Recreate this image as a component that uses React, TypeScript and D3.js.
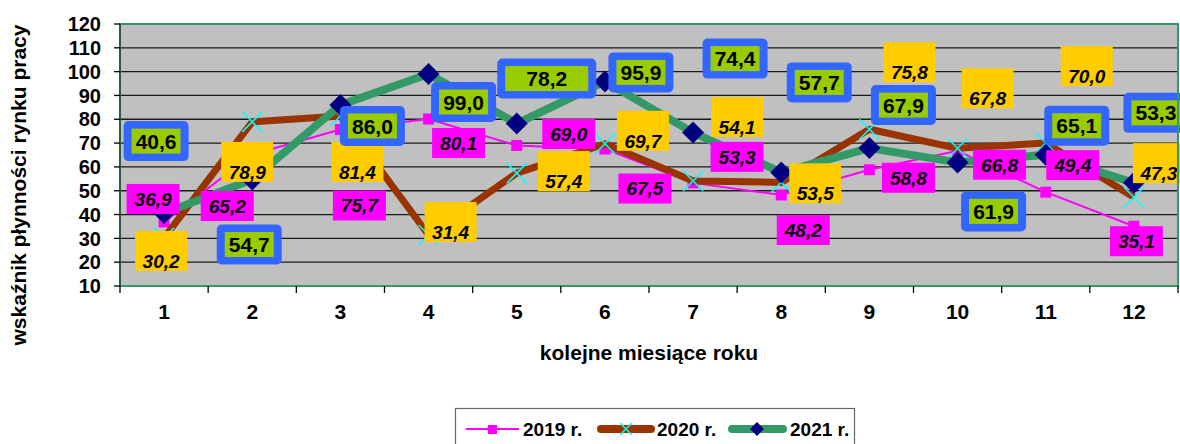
import React from "react";
import * as d3 from "d3";

const months = ["1", "2", "3", "4", "5", "6", "7", "8", "9", "10", "11", "12"];
const yTicks = [10, 20, 30, 40, 50, 60, 70, 80, 90, 100, 110, 120];
const seriesNames = ["2019 r.", "2020 r.", "2021 r."];
const values2019 = [36.9, 65.2, 75.7, 80.1, 69.0, 67.5, 53.3, 48.2, 58.8, 66.8, 49.4, 35.1];
const values2020 = [30.2, 78.9, 81.4, 31.4, 57.4, 69.7, 54.1, 53.5, 75.8, 67.8, 70.0, 47.3];
const values2021 = [40.6, 54.7, 86.0, 99.0, 78.2, 95.9, 74.4, 57.7, 67.9, 61.9, 65.1, 53.3];
const yTitle = "wskaźnik płynności rynku pracy";
const xTitle = "kolejne miesiące roku";

// label placement offsets (layout, px) relative to the data point
const off2019: [number, number][] = [[-11, -23], [-25, 51.5], [19, 76], [30, 24], [52, -11.5], [40, 39.5], [44, -26], [22, 35], [39, 8], [42, 14], [27, -27], [2.5, 15]];
const off2020: [number, number][] = [[-3, 13], [-5, 40], [17, 46], [22, -13], [47, -2], [38, -13], [44, -64], [34, 1], [40, -67], [30, -60], [41, -77], [25, -34]];
const off2021: [number, number][] = [[-8, -72], [-3, 65], [32, 21], [35, 28], [30, -45], [36, -9], [42, -74], [38, -90], [34, -43], [36, 49], [31, -29], [22, -70]];
const w2021 = [65, 65, 65, 65, 99, 65, 65, 65, 65, 65, 65, 65];

const FONT = "'Liberation Sans', Arial, sans-serif";
const W = 1180, H = 444;
const PL = 120, PR = 1178, PT = 24, PB = 286;

const fmt = (v: number) => v.toFixed(1).replace(".", ",");

export default function App() {
  const x = d3.scaleBand<string>().domain(months).range([PL, PR]);
  const y = d3.scaleLinear().domain([10, 120]).range([PB, PT]);
  const cx = (i: number) => (x(months[i]) as number) + x.bandwidth() / 2;
  const line = d3.line<number>().x((_, i) => cx(i)).y((d) => y(d));

  const xTickPos = months.map((m) => x(m) as number).concat([PR]);

  const diamond = (px: number, py: number, r: number) =>
    `M${px},${py - r}L${px + r},${py}L${px},${py + r}L${px - r},${py}Z`;
  const cross = (px: number, py: number, r: number) =>
    `M${px - r},${py - r}L${px + r},${py + r}M${px - r},${py + r}L${px + r},${py - r}`;

  return (
    <svg width={W} height={H} style={{ position: "absolute", left: 0, top: 0, display: "block", background: "#fff" }} fontFamily={FONT}>
      <rect x={PL} y={PT} width={PR - PL} height={PB - PT} fill="#C0C0C0" />
      {yTicks.map((t) => (
        <line key={t} x1={PL} x2={PR} y1={y(t)} y2={y(t)} stroke="#1a1a1a" strokeWidth={1.3} />
      ))}

      {/* 2019 */}
      <path d={line(values2019) || ""} fill="none" stroke="#FF00FF" strokeWidth={2} />
      {values2019.map((v, i) => (
        <rect key={i} x={cx(i) - 5.5} y={y(v) - 5.5} width={11} height={11} fill="#FF00FF" />
      ))}
      {/* 2020 */}
      <path d={line(values2020) || ""} fill="none" stroke="#993300" strokeWidth={7} strokeLinejoin="round" />
      {values2020.map((v, i) => (
        <path key={i} d={cross(cx(i), y(v), 10)} stroke="#00FFFF" strokeWidth={1.5} fill="none" />
      ))}
      {/* 2021 */}
      <path d={line(values2021) || ""} fill="none" stroke="#339966" strokeWidth={8} strokeLinejoin="round" />
      {values2021.map((v, i) => (
        <path key={i} d={diamond(cx(i), y(v), 11)} fill="#000080" />
      ))}

      {/* labels 2019 */}
      {values2019.map((v, i) => {
        const lx = cx(i) + off2019[i][0], ly = y(v) + off2019[i][1];
        return (
          <g key={i}>
            <rect x={lx - 26.5} y={ly - 15} width={53} height={30} fill="#FF00FF" />
            <text x={lx} y={ly} dy="0.36em" textAnchor="middle" fontSize={19} fontWeight="bold" fontStyle="italic" fill="#000">{fmt(v)}</text>
          </g>
        );
      })}
      {/* labels 2020 */}
      {values2020.map((v, i) => {
        const lx = cx(i) + off2020[i][0], ly = y(v) + off2020[i][1];
        return (
          <g key={i}>
            <rect x={lx - 26} y={ly - 20} width={52} height={40} fill="#FFCC00" />
            <text x={lx} y={ly + 10} dy="0.36em" textAnchor="middle" fontSize={19} fontWeight="bold" fontStyle="italic" fill="#000">{fmt(v)}</text>
          </g>
        );
      })}
      {/* labels 2021 */}
      {values2021.map((v, i) => {
        const lx = cx(i) + off2021[i][0], ly = y(v) + off2021[i][1];
        const bw = w2021[i];
        return (
          <g key={i}>
            <rect x={lx - bw / 2} y={ly - 20} width={bw} height={40} rx={5} fill="#3366FF" />
            <rect x={lx - bw / 2 + 8} y={ly - 12.5} width={bw - 16} height={25} fill="#99CC00" />
            <text x={lx} y={ly} dy="0.36em" textAnchor="middle" fontSize={21} fontWeight="bold" fill="#000">{fmt(v)}</text>
          </g>
        );
      })}

      {/* plot border */}
      <rect x={PL} y={PT} width={PR - PL} height={PB - PT} fill="none" stroke="#339966" strokeWidth={2} />
      <line x1={PL} x2={PL} y1={PT} y2={PB} stroke="#2a5a44" strokeWidth={2} />

      {/* y axis */}
      {yTicks.map((t) => (
        <g key={t}>
          <line x1={PL - 6} x2={PL} y1={y(t)} y2={y(t)} stroke="#000" strokeWidth={1.3} />
          <text x={101} y={y(t)} dy="0.36em" textAnchor="end" fontSize={20} fontWeight="bold">{t}</text>
        </g>
      ))}
      {/* x axis */}
      {xTickPos.map((p, i) => (
        <line key={i} x1={p} x2={p} y1={PB} y2={PB + 7} stroke="#000" strokeWidth={1.3} />
      ))}
      {months.map((m, i) => (
        <text key={m} x={cx(i)} y={311} dy="0.36em" textAnchor="middle" fontSize={21} fontWeight="bold">{m}</text>
      ))}

      <text x={649} y={352} dy="0.36em" textAnchor="middle" fontSize={21} fontWeight="bold">{xTitle}</text>
      <text transform={`translate(26,185) rotate(-90)`} textAnchor="middle" fontSize={21} fontWeight="bold">{yTitle}</text>

      {/* legend */}
      <rect x={455.5} y={408.5} width={399} height={50} fill="#fff" stroke="#666" strokeWidth={1.2} />
      <g>
        <line x1={466} x2={519} y1={429} y2={429} stroke="#FF00FF" strokeWidth={2} />
        <rect x={488} y={425} width={9} height={9} fill="#FF00FF" />
        <text x={523} y={429} dy="0.36em" fontSize={19} fontWeight="bold">{seriesNames[0]}</text>

        <line x1={601} x2={651} y1={429} y2={429} stroke="#993300" strokeWidth={8} strokeLinecap="round" />
        <path d={cross(626, 429, 6)} stroke="#00FFFF" strokeWidth={1.5} />
        <text x={657} y={429} dy="0.36em" fontSize={19} fontWeight="bold">{seriesNames[1]}</text>

        <line x1={732} x2={783} y1={429} y2={429} stroke="#339966" strokeWidth={8} strokeLinecap="round" />
        <path d={diamond(757, 429, 7)} fill="#000080" />
        <text x={790} y={429} dy="0.36em" fontSize={19} fontWeight="bold">{seriesNames[2]}</text>
      </g>
    </svg>
  );
}
